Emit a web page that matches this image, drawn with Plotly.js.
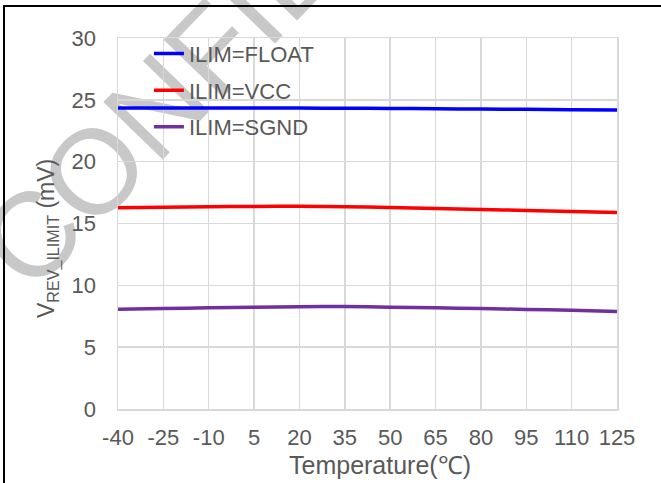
<!DOCTYPE html>
<html>
<head>
<meta charset="utf-8">
<script src="https://cdn.plot.ly/plotly-3.0.1.min.js"></script>
<style>
html,body{margin:0;padding:0;background:#fff;}
#wrap{position:relative;width:661px;height:483px;overflow:hidden;background:#fff;}
#wm{position:absolute;left:0;top:0;z-index:0;}
#chart{position:absolute;left:0;top:0;width:661px;height:483px;z-index:1;}
#frame{position:absolute;left:3px;top:5px;width:670px;height:490px;border-top:2px solid #000;border-left:2px solid #000;z-index:2;pointer-events:none;}
</style>
</head>
<body>
<div id="wrap">
  <svg id="wm" width="661" height="483">
    <text x="31" y="296" transform="rotate(-46 31 296)" font-family="'Liberation Sans', Arial, sans-serif" font-size="120" fill="#c8c8c8">CONFIDENTIAL</text>
  </svg>
  <div id="chart"></div>
  <div id="frame"></div>
</div>
<script>
// Data
var temps = [-40, -25, -10, 5, 20, 35, 50, 65, 80, 95, 110, 125];
var tickLabels = ['-40', '-25', '-10', '5', '20', '35', '50', '65', '80', '95', '110', '125'];
var ilimFloat = [24.34, 24.34, 24.34, 24.33, 24.33, 24.32, 24.3, 24.28, 24.25, 24.23, 24.2, 24.18];
var ilimVcc   = [16.28, 16.32, 16.36, 16.38, 16.39, 16.36, 16.3, 16.22, 16.14, 16.06, 15.97, 15.89];
var ilimSgnd  = [8.07, 8.12, 8.18, 8.23, 8.27, 8.28, 8.23, 8.18, 8.12, 8.05, 7.98, 7.88];
var seriesNames = ['ILIM=FLOAT', 'ILIM=VCC', 'ILIM=SGND'];

var colors = ['#0000ff', '#ff0000', '#7030a0'];
var allSeries = [ilimFloat, ilimVcc, ilimSgnd];

var traces = allSeries.map(function (ys, i) {
  return {
    x: temps,
    y: ys,
    type: 'scatter',
    mode: 'lines',
    name: seriesNames[i],
    legendgroup: 'g' + i,
    line: {color: colors[i], width: 3.5, shape: 'spline', smoothing: 0.8}
  };
});

var fontFam = '"Liberation Sans", Arial, sans-serif';
var grey = '#595959';
var gridC = '#d9d9d9';

var layout = {
  width: 661,
  height: 483,
  margin: {l: 118, r: 44, t: 38, b: 74, pad: 0},
  paper_bgcolor: 'rgba(0,0,0,0)',
  plot_bgcolor: 'rgba(0,0,0,0)',
  font: {family: fontFam, size: 22, color: grey},
  xaxis: {
    range: [-40, 125],
    tickvals: temps,
    ticktext: tickLabels,
    showgrid: true,
    gridcolor: gridC,
    gridwidth: 1.5,
    zeroline: false,
    showline: true,
    linecolor: gridC,
    linewidth: 1.5,
    mirror: true,
    ticks: '',
    ticklabelstandoff: 8,
    tickfont: {family: fontFam, size: 22, color: grey},
    fixedrange: true
  },
  yaxis: {
    range: [0, 30],
    dtick: 5,
    showgrid: true,
    gridcolor: gridC,
    gridwidth: 1.5,
    zeroline: false,
    showline: true,
    linecolor: gridC,
    linewidth: 1.5,
    mirror: true,
    ticks: '',
    ticklabelstandoff: 16,
    tickfont: {family: fontFam, size: 22, color: grey},
    fixedrange: true
  },
  showlegend: true,
  legend: {
    x: 0.062, y: 1.014, xanchor: 'left', yanchor: 'top',
    bgcolor: 'rgba(0,0,0,0)',
    font: {family: fontFam, size: 22, color: grey},
    tracegroupgap: 5
  },
  annotations: [
    {
      text: 'V<sub>REV_ILIMIT</sub> (mV)',
      xref: 'paper', yref: 'paper',
      x: (48 - 118) / 499, y: (409 - 239) / 371,
      xanchor: 'center', yanchor: 'middle',
      textangle: -90, showarrow: false,
      font: {family: fontFam, size: 23, color: grey}
    },
    {
      text: 'Temperature(℃)',
      xref: 'paper', yref: 'paper',
      x: (380 - 118) / 499, y: (409 - 465) / 371,
      xanchor: 'center', yanchor: 'middle',
      showarrow: false,
      font: {family: fontFam, size: 25, color: grey}
    }
  ]
};

Plotly.newPlot('chart', traces, layout, {displayModeBar: false, staticPlot: true});
</script>
</body>
</html>
